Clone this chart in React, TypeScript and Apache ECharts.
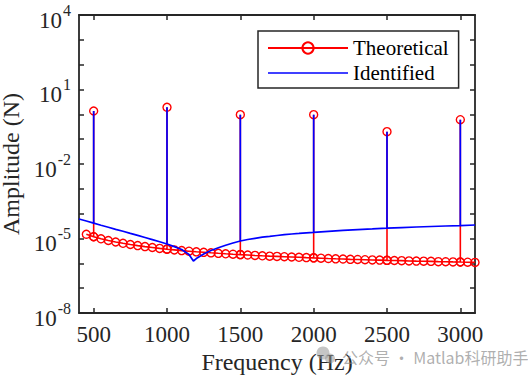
import React, { useEffect, useRef } from "react";
import * as echarts from "echarts";

// Theoretical baseline (Hz, N)
const theoFreq = [
  450, 500, 550, 600, 650, 700, 750, 800, 850, 900, 950, 1000, 1050, 1100, 1150, 1200, 1250, 1300,
  1350, 1400, 1450, 1500, 1550, 1600, 1650, 1700, 1750, 1800, 1850, 1900, 1950, 2000, 2050, 2100,
  2150, 2200, 2250, 2300, 2350, 2400, 2450, 2500, 2550, 2600, 2650, 2700, 2750, 2800, 2850, 2900,
  2950, 3000, 3050, 3100,
];
const theoBase = [
  1.48e-5, 1.18e-5, 9.73e-6, 8.3e-6, 7.23e-6, 6.41e-6, 5.73e-6, 5.18e-6, 4.72e-6, 4.34e-6, 3.99e-6,
  3.71e-6, 3.48e-6, 3.26e-6, 3.08e-6, 2.91e-6, 2.78e-6, 2.65e-6, 2.53e-6, 2.42e-6, 2.33e-6, 2.25e-6,
  2.16e-6, 2.08e-6, 2.01e-6, 1.95e-6, 1.9e-6, 1.85e-6, 1.8e-6, 1.75e-6, 1.7e-6, 1.66e-6, 1.61e-6,
  1.56e-6, 1.52e-6, 1.49e-6, 1.45e-6, 1.43e-6, 1.4e-6, 1.37e-6, 1.35e-6, 1.32e-6, 1.3e-6, 1.28e-6,
  1.25e-6, 1.23e-6, 1.22e-6, 1.2e-6, 1.17e-6, 1.16e-6, 1.14e-6, 1.13e-6, 1.11e-6, 1.09e-6,
];

// Identified baseline (Hz, N)
const identFreq = [
  400, 450, 500, 550, 600, 650, 700, 750, 800, 850, 900, 950, 1000, 1050, 1100, 1150, 1180, 1200,
  1250, 1300, 1350, 1400, 1450, 1500, 1550, 1600, 1650, 1700, 1750, 1800, 1850, 1900, 1950, 2000,
  2100, 2200, 2300, 2400, 2500, 2600, 2700, 2800, 2900, 3000, 3100,
];
const identBase = [
  6.1e-5, 5.07e-5, 4.17e-5, 3.43e-5, 2.85e-5, 2.34e-5, 1.95e-5, 1.6e-5, 1.33e-5, 1.1e-5, 9.03e-6,
  7.43e-6, 6.0e-6, 4.72e-6, 3.61e-6, 2.27e-6, 1.24e-6, 1.56e-6, 2.38e-6, 3.29e-6, 4.22e-6, 5.32e-6,
  6.59e-6, 7.93e-6, 9.12e-6, 1.02e-5, 1.13e-5, 1.22e-5, 1.32e-5, 1.42e-5, 1.52e-5, 1.6e-5, 1.69e-5,
  1.77e-5, 1.95e-5, 2.12e-5, 2.28e-5, 2.43e-5, 2.6e-5, 2.75e-5, 2.9e-5, 3.04e-5, 3.18e-5, 3.33e-5,
  3.5e-5,
];

// Excitation harmonics
const peakFreq = [500, 1000, 1500, 2000, 2500, 3000];
const theoPeak = [1.36, 1.92, 0.967, 0.967, 0.2, 0.608];
const identPeak = [1.36, 1.92, 0.967, 0.967, 0.2, 0.608];

// Axis ticks
const xTicks = [500, 1000, 1500, 2000, 2500, 3000];
const yLabelExps = [-8, -5, -2, 1, 4];

function withSpikes(freq: number[], base: number[], pf: number[], pv: number[]) {
  const out: number[][] = [];
  freq.forEach((f, i) => {
    out.push([f, base[i]]);
    const k = pf.indexOf(f);
    if (k >= 0) {
      out.push([f, pv[k]]);
      out.push([f, base[i]]);
    }
  });
  return out;
}

const FONT = "'Liberation Serif', 'Times New Roman', serif";
const INK = "#262626";

export default function App() {
  const ref = useRef<HTMLDivElement>(null);
  useEffect(() => {
    document.body.style.margin = "0";
    if (!ref.current) return;
    const chart = echarts.init(ref.current, undefined, { renderer: "svg" });
    const axisLine = { show: true, lineStyle: { color: INK, width: 1.8 } };
    const tick = { show: true, inside: true, length: 5, lineStyle: { color: INK, width: 1.5 } };
    const xTick = { ...tick, customValues: xTicks };
    chart.setOption({
      animation: false,
      backgroundColor: "#ffffff",
      grid: { left: 79, right: 53, top: 15, bottom: 64, outerBoundsMode: "none", containLabel: false },
      legend: {
        orient: "vertical",
        left: 258,
        top: 31,
        padding: [6, 10, 4, 9],
        itemWidth: 80,
        itemHeight: 14,
        itemGap: 3,
        backgroundColor: "#ffffff",
        borderColor: INK,
        borderWidth: 1.5,
        borderRadius: 0,
        textStyle: { fontFamily: FONT, fontSize: 21, lineHeight: 22, color: "#000" },
        data: [
          { name: "Theoretical" },
          { name: "Identified", icon: "path://M0,0 L80,0 L80,1.6 L0,1.6 Z" },
        ],
      },
      xAxis: [
        {
          type: "value",
          min: 400,
          max: 3100,
          position: "bottom",
          axisLine,
          axisTick: xTick,
          splitLine: { show: false },
          axisLabel: {
            fontFamily: FONT,
            fontSize: 23,
            lineHeight: 20,
            color: INK,
            margin: 11,
            customValues: xTicks,
            formatter: (v: number) => String(v),
          },
          name: "Frequency (Hz)",
          nameLocation: "middle",
          nameGap: 37,
          nameTextStyle: { fontFamily: FONT, fontSize: 24, color: INK },
        },
        {
          type: "value",
          min: 400,
          max: 3100,
          position: "top",
          axisLine,
          axisTick: xTick,
          splitLine: { show: false },
          axisLabel: { show: false },
        },
      ],
      yAxis: [
        {
          type: "log",
          logBase: 10,
          min: 1e-8,
          max: 1e4,
          interval: 1,
          position: "left",
          axisLine,
          axisTick: tick,
          splitLine: { show: false },
          axisLabel: {
            margin: 8,
            padding: [10, 0, 0, 0],
            formatter: (v: number) => {
              const e = Math.round(Math.log10(v));
              if (yLabelExps.indexOf(e) < 0) return "";
              return `{b|10}{s|${e}}`;
            },
            rich: {
              b: { fontFamily: FONT, fontSize: 23, color: INK, lineHeight: 24 },
              s: { fontFamily: FONT, fontSize: 16, color: INK, lineHeight: 16, padding: [0, 0, 20, 1] },
            },
          },
          name: "Amplitude (N)",
          nameLocation: "middle",
          nameGap: 48,
          nameTextStyle: { fontFamily: FONT, fontSize: 24, lineHeight: 24, color: INK },
        },
        {
          type: "log",
          logBase: 10,
          min: 1e-8,
          max: 1e4,
          interval: 1,
          position: "right",
          axisLine,
          axisTick: tick,
          splitLine: { show: false },
          axisLabel: { show: false },
        },
      ],
      series: [
        {
          name: "Theoretical",
          type: "line",
          xAxisIndex: 0,
          yAxisIndex: 0,
          data: withSpikes(theoFreq, theoBase, peakFreq, theoPeak),
          symbol: "circle",
          symbolSize: 8,
          showAllSymbol: true,
          lineStyle: { color: "#ff0000", width: 1.6 },
          itemStyle: { color: "rgba(255,255,255,0)", borderColor: "#ff0000", borderWidth: 1.4 },
          z: 2,
        },
        {
          name: "Identified",
          type: "line",
          xAxisIndex: 0,
          yAxisIndex: 0,
          data: withSpikes(identFreq, identBase, peakFreq, identPeak),
          symbol: "none",
          lineStyle: { color: "#0000ff", width: 1.7 },
          itemStyle: { color: "#0000ff" },
          z: 3,
        },
      ],
      graphic: [
        { type: "circle", shape: { cx: 323, cy: 353, r: 6.5 }, style: { fill: "rgba(150,150,150,0.55)" }, z: 10 },
        { type: "circle", shape: { cx: 330, cy: 358.5, r: 5 }, style: { fill: "rgba(150,150,150,0.55)" }, z: 10 },
        {
          type: "text",
          left: 342,
          top: 349,
          z: 10,
          style: {
            text: "公众号 · Matlab科研助手",
            fontFamily: "'Noto Sans CJK SC', 'Noto Sans', sans-serif",
            fontSize: 16,
            fill: "rgba(140,140,140,0.7)",
          },
        },
      ],
    });
    return () => chart.dispose();
  }, []);
  return <div ref={ref} style={{ width: 528, height: 377 }} />;
}
